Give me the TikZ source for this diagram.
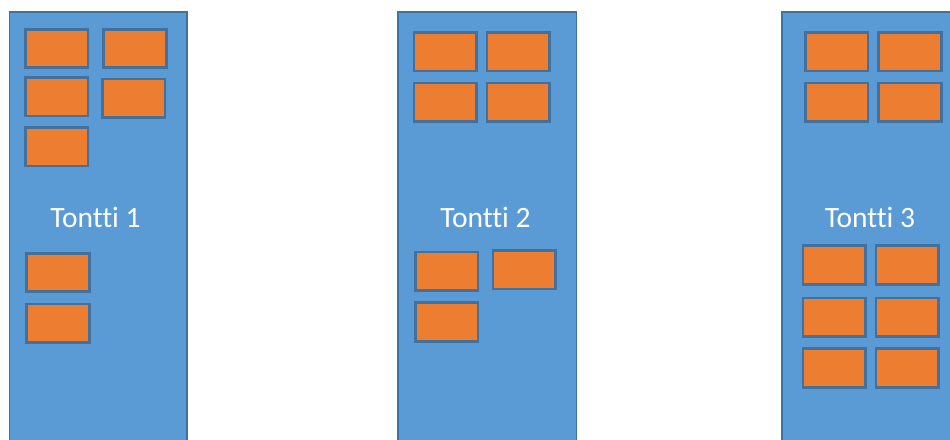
\documentclass[tikz,border=0pt]{standalone}
\usepackage{fontspec}
\setmainfont{Carlito}[Ligatures={NoCommon,TeX}]
\definecolor{panelblue}{HTML}{5B9BD5}
\definecolor{edgeblue}{HTML}{41719C}
\definecolor{boxorange}{HTML}{ED7D31}
\begin{document}
\begin{tikzpicture}[x=1pt,y=-1pt,
  panel/.style={draw=edgeblue,fill=panelblue,line width=1.6pt},
  lot/.style={draw=edgeblue,fill=boxorange,line width=2.6pt,minimum width=62.5pt,minimum height=38.5pt,inner sep=0pt},
  label/.style={text=white,font=\fontsize{29.5}{34}\selectfont,anchor=base,inner sep=0pt}]
\useasboundingbox (0,0) rectangle (950,439);
\clip (0,0) rectangle (950,439);
% panels
\draw[panel] (9.5,12) rectangle (187,460);
\draw[panel] (398,12) rectangle (576.5,460);
\draw[panel] (782,12) rectangle (961,460);
% labels
\node[label] (t1) at (95.5,227.3) {Tontti 1};
\node[label] (t2) at (485.5,227.3) {Tontti 2};
\node[label] (t3) at (870,227.3) {Tontti 3};
% plot 1
\node[lot] (a1) at (56.7,48.5) {};
\node[lot] (a2) at (135,48.5) {};
\node[lot] (a3) at (56.7,96.7) {};
\node[lot] (a4) at (133.7,98.2) {};
\node[lot] (a5) at (56.7,146.7) {};
\node[lot] (a6) at (58,272.5) {};
\node[lot] (a7) at (58,323.2) {};
% plot 2
\node[lot] (b1) at (445.3,51.8) {};
\node[lot] (b2) at (518.3,51.8) {};
\node[lot] (b3) at (445.3,102.2) {};
\node[lot] (b4) at (518.3,102.2) {};
\node[lot] (b5) at (446.7,271.2) {};
\node[lot] (b6) at (524.3,269.7) {};
\node[lot] (b7) at (446.7,322) {};
% plot 3
\node[lot] (c1) at (836.7,51.7) {};
\node[lot] (c2) at (910,51.7) {};
\node[lot] (c3) at (836.7,102.2) {};
\node[lot] (c4) at (910,102.2) {};
\node[lot] (c5) at (834.2,265) {};
\node[lot] (c6) at (907.3,265) {};
\node[lot] (c7) at (834.2,317.2) {};
\node[lot] (c8) at (907.3,317.2) {};
\node[lot] (c9) at (834.2,368) {};
\node[lot] (c10) at (907.3,368) {};
\end{tikzpicture}
\end{document}
